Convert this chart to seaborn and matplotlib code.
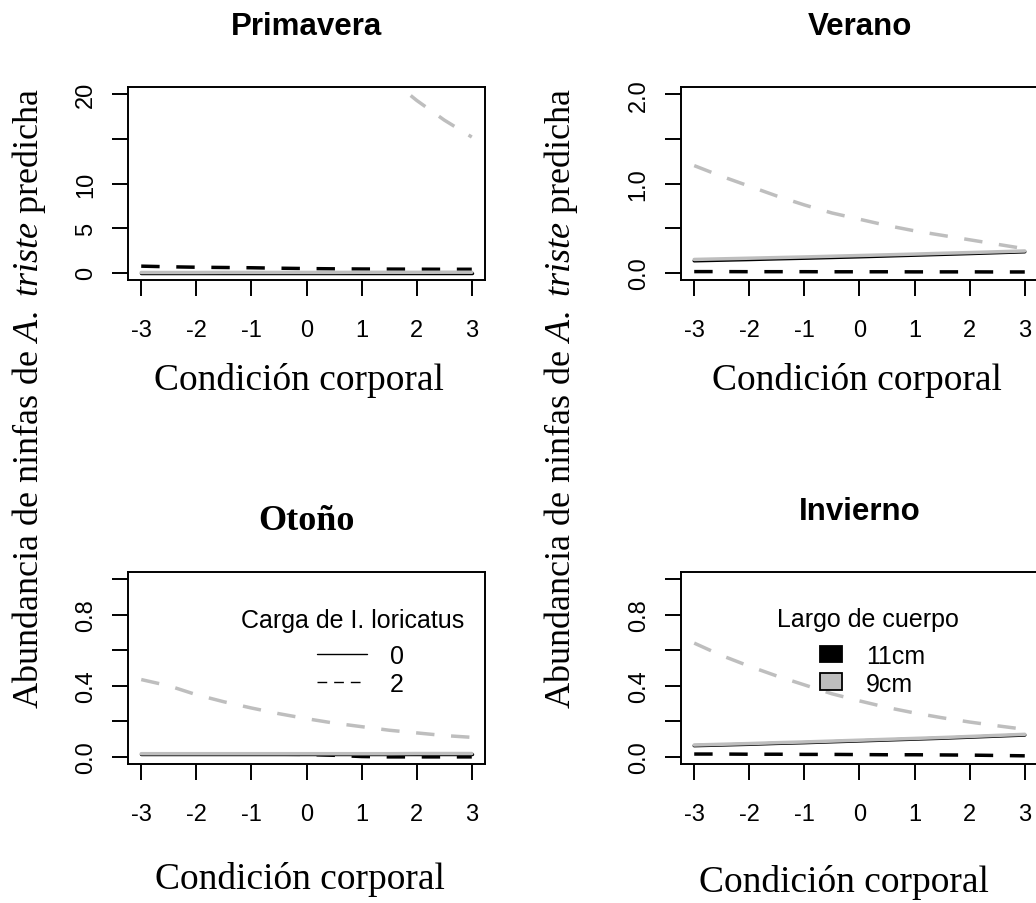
import numpy as np
import pandas as pd
import matplotlib
matplotlib.use("Agg")
import matplotlib.pyplot as plt
import seaborn as sns
from matplotlib.lines import Line2D
from matplotlib.patches import Patch

# ---------------- data ----------------
condicion = [-3.0, -2.5, -2.0, -1.5, -1.0, -0.5, 0.0, 0.5, 1.0, 1.5, 2.0, 2.5, 3.0]

estaciones = ["Primavera", "Verano", "Otoño", "Invierno"]
largos = ["11cm", "9cm"]
cargas = ["0", "2"]

# Primavera
primavera_11cm_c0 = [0.02, 0.02, 0.02, 0.02, 0.02, 0.02, 0.02, 0.02, 0.02, 0.02, 0.02, 0.02, 0.02]
primavera_11cm_c2 = [0.75, 0.68, 0.63, 0.60, 0.57, 0.52, 0.48, 0.45, 0.43, 0.42, 0.41, 0.40, 0.40]
primavera_9cm_c0 = [0.04, 0.04, 0.04, 0.05, 0.05, 0.05, 0.05, 0.05, 0.06, 0.06, 0.06, 0.07, 0.07]
primavera_9cm_c2 = [63.0, 56.0, 50.0, 44.0, 39.0, 35.0, 31.0, 27.5, 24.5, 21.8, 19.3, 17.1, 15.2]

# Verano
verano_11cm_c0 = [0.135, 0.142, 0.149, 0.157, 0.164, 0.172, 0.180, 0.189, 0.198, 0.207, 0.216, 0.226, 0.236]
verano_11cm_c2 = [0.014, 0.014, 0.013, 0.013, 0.013, 0.012, 0.012, 0.012, 0.011, 0.011, 0.011, 0.010, 0.010]
verano_9cm_c0 = [0.150, 0.157, 0.164, 0.171, 0.178, 0.186, 0.194, 0.202, 0.210, 0.219, 0.227, 0.236, 0.245]
verano_9cm_c2 = [1.20, 1.08, 0.97, 0.86, 0.76, 0.67, 0.60, 0.53, 0.47, 0.42, 0.37, 0.32, 0.27]

# Otoño
otono_11cm_c0 = [0.014, 0.014, 0.014, 0.014, 0.014, 0.014, 0.014, 0.014, 0.014, 0.014, 0.014, 0.014, 0.014]
otono_11cm_c2 = [0.017, 0.017, 0.016, 0.016, 0.015, 0.015, 0.014, 0.009, 0.002, 0.0, 0.0, 0.0, 0.0]
otono_9cm_c0 = [0.018, 0.018, 0.018, 0.018, 0.018, 0.018, 0.018, 0.018, 0.018, 0.018, 0.019, 0.019, 0.019]
otono_9cm_c2 = [0.435, 0.40, 0.35, 0.31, 0.275, 0.243, 0.215, 0.19, 0.17, 0.15, 0.135, 0.12, 0.11]

# Invierno
invierno_11cm_c0 = [0.063, 0.067, 0.071, 0.076, 0.080, 0.085, 0.090, 0.095, 0.100, 0.105, 0.111, 0.117, 0.123]
invierno_11cm_c2 = [0.016, 0.016, 0.015, 0.015, 0.014, 0.014, 0.013, 0.012, 0.012, 0.011, 0.010, 0.008, 0.006]
invierno_9cm_c0 = [0.067, 0.071, 0.075, 0.080, 0.084, 0.089, 0.094, 0.099, 0.104, 0.109, 0.115, 0.121, 0.127]
invierno_9cm_c2 = [0.64, 0.57, 0.51, 0.455, 0.405, 0.355, 0.315, 0.278, 0.247, 0.22, 0.196, 0.175, 0.155]

series = {
    "Primavera": {("11cm", "0"): primavera_11cm_c0, ("11cm", "2"): primavera_11cm_c2,
                  ("9cm", "0"): primavera_9cm_c0, ("9cm", "2"): primavera_9cm_c2},
    "Verano": {("11cm", "0"): verano_11cm_c0, ("11cm", "2"): verano_11cm_c2,
               ("9cm", "0"): verano_9cm_c0, ("9cm", "2"): verano_9cm_c2},
    "Otoño": {("11cm", "0"): otono_11cm_c0, ("11cm", "2"): otono_11cm_c2,
              ("9cm", "0"): otono_9cm_c0, ("9cm", "2"): otono_9cm_c2},
    "Invierno": {("11cm", "0"): invierno_11cm_c0, ("11cm", "2"): invierno_11cm_c2,
                 ("9cm", "0"): invierno_9cm_c0, ("9cm", "2"): invierno_9cm_c2},
}

x_ticks = [-3, -2, -1, 0, 1, 2, 3]
y_ticks = {
    "Primavera": [0, 5, 10, 15, 20],
    "Verano": [0, 0.5, 1.0, 1.5, 2.0],
    "Otoño": [0, 0.2, 0.4, 0.6, 0.8, 1.0],
    "Invierno": [0, 0.2, 0.4, 0.6, 0.8, 1.0],
}
y_ticklabels = {
    "Primavera": ["0", "5", "10", "", "20"],
    "Verano": ["0.0", "", "1.0", "", "2.0"],
    "Otoño": ["0.0", "", "0.4", "", "0.8", ""],
    "Invierno": ["0.0", "", "0.4", "", "0.8", ""],
}
y_limits = {"Primavera": (0, 20), "Verano": (0, 2), "Otoño": (0, 1), "Invierno": (0, 1)}

rows = []
for est in estaciones:
    for (lg, cg), vals in series[est].items():
        for xv, yv in zip(condicion, vals):
            rows.append({"estacion": est, "condicion": xv, "abundancia": yv,
                         "largo": lg, "carga": cg})
df = pd.DataFrame(rows)

# ---------------- style ----------------
sns.set_style("ticks")
plt.rcParams.update({
    "font.family": ["Liberation Sans", "DejaVu Sans"],
    "mathtext.fontset": "custom",
    "mathtext.rm": "Liberation Serif",
    "mathtext.it": "Liberation Serif:italic",
    "mathtext.bf": "Liberation Serif:bold",
    "axes.edgecolor": "black",
    "text.color": "black",
    "xtick.color": "black",
    "ytick.color": "black",
    "axes.labelcolor": "black",
})

W, H = 1036, 904
fig = plt.figure(figsize=(W / 100, H / 100), dpi=100)
fig.patch.set_facecolor("white")

boxes = {
    "Primavera": (128, 88, 485, 281),
    "Verano": (681, 88, 1038, 281),
    "Otoño": (128, 573, 485, 765),
    "Invierno": (681, 573, 1038, 765),
}
title_y = {"Primavera": 35, "Verano": 35, "Otoño": 530, "Invierno": 520}
xlabel_base = {"Primavera": 390, "Verano": 390, "Otoño": 889, "Invierno": 892}
xlabel_cx = {"Primavera": 298.5, "Verano": 857, "Otoño": 300, "Invierno": 844}

palette = {"11cm": "black", "9cm": "#BEBEBE"}
dashes = {"0": "", "2": (5.3, 4.8)}
serif = ["Liberation Serif", "DejaVu Serif"]
sans = ["Liberation Sans", "DejaVu Sans"]

axes = {}
for est in estaciones:
    x0, y0, x1, y1 = boxes[est]
    ax = fig.add_axes([x0 / W, 1 - y1 / H, (x1 - x0) / W, (y1 - y0) / H])
    axes[est] = ax
    sub = df[df["estacion"] == est]
    sns.lineplot(data=sub, x="condicion", y="abundancia", hue="largo", style="carga",
                 hue_order=largos, style_order=cargas, palette=palette, dashes=dashes,
                 estimator=None, errorbar=None, legend=False, linewidth=2.5, ax=ax)
    lo, hi = y_limits[est]
    pad = 0.04 * (hi - lo)
    ax.set_ylim(lo - pad, hi + pad)
    ax.set_xlim(-3.24, 3.24)
    ax.set_xticks(x_ticks)
    ax.set_xticklabels([str(v) for v in x_ticks])
    ax.set_yticks(y_ticks[est])
    ax.set_yticklabels(y_ticklabels[est], rotation=90, va="center")
    ax.tick_params(axis="both", direction="out", length=11.5, width=1.4, labelsize=17)
    ax.tick_params(axis="x", pad=16.5)
    ax.tick_params(axis="y", pad=11)
    for s in ax.spines.values():
        s.set_linewidth(1.4)
        s.set_color("black")
        s.set_visible(True)
    ax.set_ylabel("")
    height = y1 - y0
    width = x1 - x0
    ax.set_xlabel("Condición corporal", fontsize=27, family=serif, va="baseline")
    ax.xaxis.set_label_coords((xlabel_cx[est] - x0) / width, -(xlabel_base[est] - y1) / height)
    if est == "Otoño":
        ax.set_title(est, fontsize=26, fontweight="bold", family=serif,
                     y=1 + (y0 - title_y[est]) / height, pad=0)
    else:
        ax.set_title(est, fontsize=22.5, fontweight="bold", family=sans,
                     y=1 + (y0 - title_y[est]) / height, pad=0)

# ---------------- legends ----------------
ax = axes["Otoño"]
x0, y0, x1, y1 = boxes["Otoño"]
ax.text((352.5 - x0) / 357, (y1 - 628) / 192, "Carga de I. loricatus", transform=ax.transAxes,
        ha="center", va="baseline", fontsize=18)
h_lines = [Line2D([], [], color="black", lw=1.0, ls="-"),
           Line2D([], [], color="black", lw=1.0, dashes=(7, 5))]
ax.legend(h_lines, cargas, loc="upper left", bbox_to_anchor=((317 - x0) / 357, (y1 - 645) / 192),
          frameon=False, fontsize=18, handlelength=2.0, handletextpad=0.92,
          labelspacing=0.14, borderpad=0, borderaxespad=0)

ax = axes["Invierno"]
x0, y0, x1, y1 = boxes["Invierno"]
ax.text((868 - x0) / 357, (y1 - 627) / 192, "Largo de cuerpo", transform=ax.transAxes,
        ha="center", va="baseline", fontsize=18)
h_patch = [Patch(facecolor="black", edgecolor="black", lw=1.3),
           Patch(facecolor="#BEBEBE", edgecolor="black", lw=1.3)]
ax.legend(h_patch, largos, loc="upper left", bbox_to_anchor=((820 - x0) / 357, (y1 - 645) / 192),
          frameon=False, fontsize=18, handlelength=0.88, handleheight=0.64, handletextpad=0.96,
          labelspacing=0.14, borderpad=0, borderaxespad=0)

# ---------------- shared y labels ----------------
ylab = r"Abundancia de ninfas de $\mathit{A.\ triste}$ predicha"
for cx in (29, 561):
    fig.text(cx / W, 1 - 398.5 / H, ylab, rotation=90, ha="center", va="center",
             fontsize=26, family=serif)

fig.savefig("out.png", dpi=100, facecolor="white")
